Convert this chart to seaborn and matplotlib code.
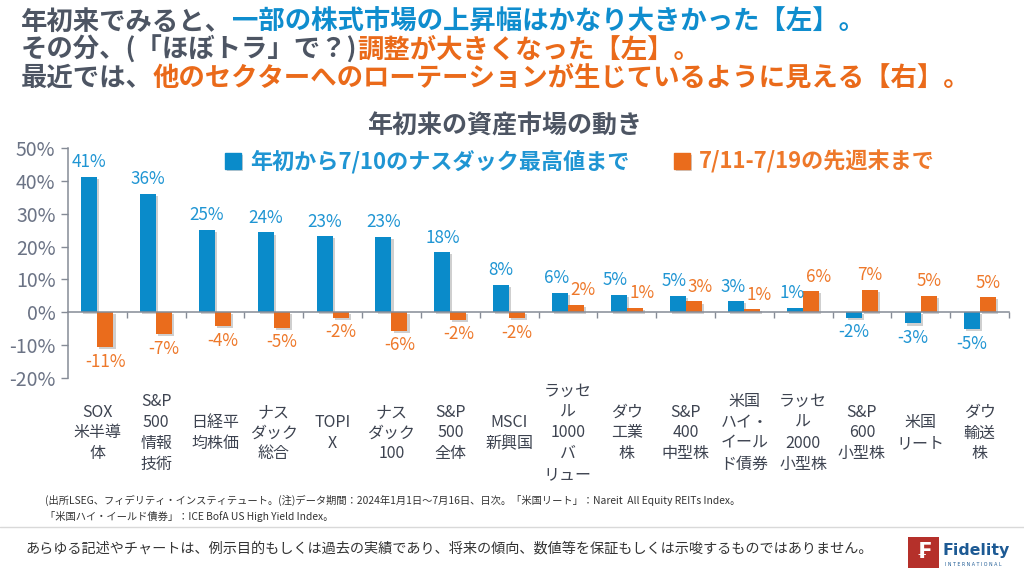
import numpy as np
import pandas as pd
import matplotlib
matplotlib.use("Agg")
import matplotlib.pyplot as plt
import matplotlib.patheffects as pe
from matplotlib.patches import Patch, Rectangle
from matplotlib.ticker import FuncFormatter
from matplotlib.transforms import blended_transform_factory
import seaborn as sns

# ---------------- data ----------------
categories = [
    "SOX\n米半導\n体", "S&P\n500\n情報\n技術", "日経平\n均株価", "ナス\nダック\n総合",
    "TOPI\nX", "ナス\nダック\n100", "S&P\n500\n全体", "MSCI\n新興国",
    "ラッセ\nル\n1000\nバ\nリュー", "ダウ\n工業\n株", "S&P\n400\n中型株",
    "米国\nハイ・\nイール\nド債券", "ラッセ\nル\n2000\n小型株", "S&P\n600\n小型株",
    "米国\nリート", "ダウ\n輸送\n株",
]
series_names = ["年初から7/10のナスダック最高値まで", "7/11-7/19の先週末まで"]
ytd_to_peak = [41.3, 36.1, 25.1, 24.3, 23.2, 22.9, 18.3, 8.4,
               6.0, 5.4, 5.1, 3.4, 1.4, -1.6, -3.4, -5.1]
last_week = [-10.6, -6.6, -4.2, -4.7, -1.6, -5.6, -2.3, -1.8,
             2.3, 1.4, 3.3, 0.9, 6.4, 6.8, 5.1, 4.6]
yticks = [-20, -10, 0, 10, 20, 30, 40, 50]

BLUE = "#0a8bca"
ORANGE = "#ea6c1c"
BLUE_T = "#1f95d3"
ORANGE_T = "#ee782a"
GRAY_T = "#4d5563"

sns.set_theme(style="white")
plt.rcParams["font.family"] = ["Noto Sans CJK JP", "DejaVu Sans"]

df = pd.DataFrame({
    "asset": categories * 2,
    "period": [series_names[0]] * len(categories) + [series_names[1]] * len(categories),
    "value": ytd_to_peak + last_week,
})

fig = plt.figure(figsize=(10.24, 5.76), dpi=100)
ax = fig.add_axes([68 / 1024, 1 - 378 / 576, (1009 - 68) / 1024, (378 - 148) / 576])

sns.barplot(data=df, x="asset", y="value", hue="period", hue_order=series_names,
            palette={series_names[0]: BLUE, series_names[1]: ORANGE},
            width=0.545, saturation=1, ax=ax, legend=False)

shadow = [pe.SimplePatchShadow(offset=(1.5, -1.5), shadow_rgbFace="#777777", alpha=0.35), pe.Normal()]
label_sets = []
for cont, col in zip(ax.containers, [BLUE_T, ORANGE_T]):
    for p in cont.patches:
        p.set_path_effects(shadow)
        p.set_linewidth(0)
    anns = ax.bar_label(cont, labels=[f"{v:.0f}%" for v in cont.datavalues], padding=4,
                        color=col, fontsize=12.3)
    label_sets.append(anns)

# where both labels sit above the axis, nudge them apart (as in the original)
for i, (b, o) in enumerate(zip(ytd_to_peak, last_week)):
    if b > 0 and o > 0:
        ab, ao = label_sets[0][i], label_sets[1][i]
        ab.xyann = (ab.xyann[0] - 2.5, ab.xyann[1])
        ao.xyann = (ao.xyann[0] + 5, ao.xyann[1])

ax.set_ylim(-20, 50)
ax.set_xlim(-0.5, len(categories) - 0.5)
ax.set_yticks(yticks)
ax.yaxis.set_major_formatter(FuncFormatter(lambda v, p: f"{v:.0f}%"))
ax.set_xlabel("")
ax.set_ylabel("")
for s in ["top", "right"]:
    ax.spines[s].set_visible(False)
ax.spines["bottom"].set_position(("data", 0))
ax.spines["bottom"].set_color("#858b96")
ax.spines["left"].set_color("#858b96")
ax.spines["bottom"].set_linewidth(1.1)
ax.spines["left"].set_linewidth(1.1)
ax.tick_params(axis="y", length=5, width=1, color="#858b96", labelsize=14,
               labelcolor="#6b7385", pad=4, left=True)
ax.tick_params(axis="x", which="major", length=0, labelbottom=False)
ax.set_xticks(np.arange(0.5, len(categories), 1), minor=True)
ax.tick_params(axis="x", which="minor", length=4, width=1, color="#858b96", direction="out", bottom=True)

trans = blended_transform_factory(ax.transData, ax.transAxes)
for i, lab in enumerate(categories):
    ax.text(i, -0.239, lab, transform=trans, ha="center", va="center",
            fontsize=11.5, color="#3d4350", linespacing=1.3)

leg = ax.legend(handles=[Patch(color=BLUE), Patch(color=ORANGE)], labels=series_names,
                ncol=2, loc="center", bbox_to_anchor=(0.544, 0.939), frameon=False,
                prop={"size": 15.9, "weight": "bold"}, handlelength=0.75, handleheight=0.75,
                handletextpad=0.4, columnspacing=2.0, borderaxespad=0)
for t, c in zip(leg.get_texts(), [BLUE_T, ORANGE_T]):
    t.set_color(c)
for h in leg.legend_handles:
    h.set_path_effects(shadow)

# chart title
fig.text(505 / 1024, 1 - 126 / 576, "年初来の資産市場の動き", ha="center", va="center",
         fontsize=18, color=GRAY_T, fontweight="bold")

# headline, multi-coloured
renderer = fig.canvas.get_renderer()
def rich_line(x, y, pieces, size=19):
    for txt, col in pieces:
        t = fig.text(x, y, txt, color=col, fontsize=size, fontweight="bold",
                     ha="left", va="center")
        bb = t.get_window_extent(renderer)
        x += bb.width / fig.bbox.width

rich_line(21 / 1024, 1 - 22 / 576, [("年初来でみると、", GRAY_T),
                                     ("一部の株式市場の上昇幅はかなり大きかった【左】。", "#0f8dce")])
rich_line(21 / 1024, 1 - 50 / 576, [("その分、(「ほぼトラ」で？)", GRAY_T),
                                     ("調整が大きくなった【左】。", "#ea6a1a")])
rich_line(21 / 1024, 1 - 78 / 576, [("最近では、", GRAY_T),
                                     ("他のセクターへのローテーションが生じているように見える【右】。", "#ea6a1a")])

# footnotes
fig.text(45 / 1024, 1 - 500 / 576,
         "(出所LSEG、フィデリティ・インスティテュート。(注)データ期間：2024年1月1日～7月16日、日次。「米国リート」：Nareit  All Equity REITs Index。",
         fontsize=7.4, color="#333333", va="center", ha="left")
fig.text(45 / 1024, 1 - 517 / 576, "「米国ハイ・イールド債券」：ICE BofA US High Yield Index。",
         fontsize=7.4, color="#333333", va="center", ha="left")
fig.add_artist(plt.Line2D([0, 1], [1 - 527 / 576] * 2, color="#d9d9d9", lw=1, transform=fig.transFigure))
fig.text(25 / 1024, 1 - 549 / 576,
         "あらゆる記述やチャートは、例示目的もしくは過去の実績であり、将来の傾向、数値等を保証もしくは示唆するものではありません。",
         fontsize=10.2, color="#333333", va="center", ha="left")

# logo
fig.add_artist(Rectangle((908 / 1024, 1 - 568 / 576), 31 / 1024, 31 / 576,
                         transform=fig.transFigure, facecolor="#b5302a", edgecolor="none"))
fig.text(923.5 / 1024, 1 - 552 / 576, "₣", fontsize=15, fontweight="bold", color="white",
         ha="center", va="center", family=["DejaVu Sans"])
fig.text(943 / 1024, 1 - 550 / 576, "Fidelity", fontsize=11.3, fontweight="bold", color="#1d5a94",
         ha="left", va="center", family=["DejaVu Sans"])
fig.text(973 / 1024, 1 - 565 / 576, "I N T E R N A T I O N A L", fontsize=3.4, color="#1d5a94",
         ha="center", va="center", family=["DejaVu Sans"])

fig.savefig("out.png", dpi=100)
